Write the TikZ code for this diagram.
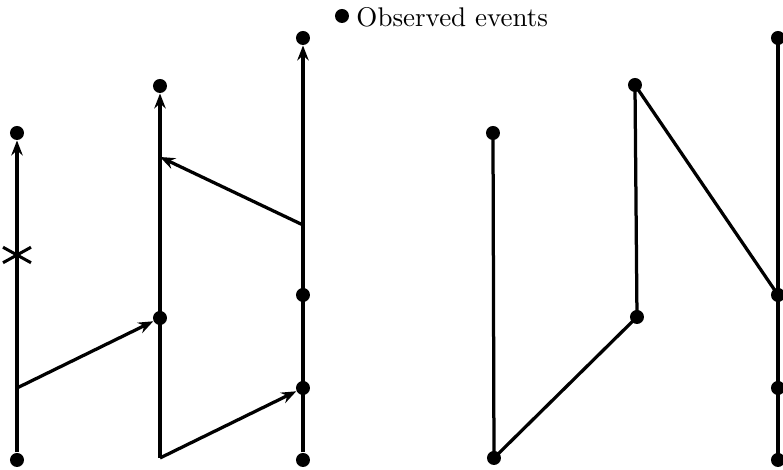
\documentclass[tikz,border=0pt]{standalone}
\usetikzlibrary{arrows.meta,shapes.misc}
\begin{document}
\begin{tikzpicture}[x=0.4pt,y=-0.4pt,
  ev/.style={circle,fill=black,inner sep=0pt,minimum size=5.6pt},
  ln/.style={line width=1.3pt},
  arr/.style={ln,-{Stealth[length=6pt,width=4.6pt,inset=2pt]}},
  crossmark/.style={cross out,draw,line width=1.2pt,minimum width=10pt,minimum height=5pt,inner sep=0pt}]
\useasboundingbox (0,0) rectangle (783,470);
% legend
\node[ev] (leg) at (342,16) {};
\node[anchor=west,inner sep=0pt,font=\fontsize{10.8}{13}\selectfont] (legt) at (356,17) {Observed events};
% left diagram: process A
\node[ev] (a0) at (17,460) {};
\node[ev] (a3) at (17,133) {};
\coordinate (a1) at (17,388);
\node[crossmark] (ax) at (17,255) {};
% process B
\coordinate (b0) at (160,458);
\node[ev] (b1) at (160,318) {};
\coordinate (b2) at (160,157);
\node[ev] (b3) at (160,86) {};
% process C
\node[ev] (c0) at (303,460) {};
\node[ev] (c1) at (303,388) {};
\node[ev] (c2) at (303,295) {};
\coordinate (c3) at (303,225);
\node[ev] (c4) at (303,38) {};
\draw[arr] (a0) -- (a3);
\draw[arr] (b0) -- (b3);
\draw[arr] (c0) -- (c4);
\draw[arr] (a1) -- (b1);
\draw[arr] (b0) -- (c1);
\draw[arr] (c3) -- (b2);
% right diagram
\node[ev] (d0) at (494,458) {};
\node[ev] (d1) at (493,133) {};
\node[ev] (e0) at (637,317) {};
\node[ev] (e1) at (635,85) {};
\node[ev] (f0) at (778,460) {};
\node[ev] (f1) at (778,388) {};
\node[ev] (f2) at (778,295) {};
\node[ev] (f3) at (778,38) {};
\draw[ln] (d0.center) -- (d1.center);
\draw[ln] (d0.center) -- (e0.center);
\draw[ln] (e0.center) -- (e1.center);
\draw[ln] (e1.center) -- (f2.center);
\draw[ln] (f0.center) -- (f3.center);
\end{tikzpicture}
\end{document}
